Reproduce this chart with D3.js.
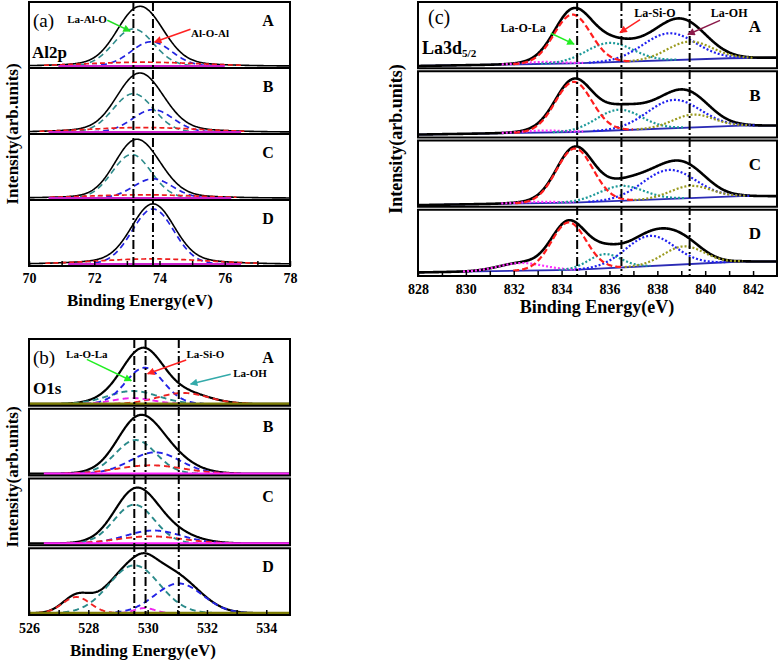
<!DOCTYPE html>
<html><head><meta charset="utf-8">
<script src="https://cdn.jsdelivr.net/npm/d3@7"></script>
<style>
body{margin:0;background:#fff}
svg{display:block}
text{font-family:"Liberation Serif","Times New Roman",serif;fill:#000}
</style>
</head><body>
<svg id="chart" width="778" height="661"></svg>
<script>
// ---------------- DATA ----------------
const rowLetters = ["A", "B", "C", "D"];

// Fitted peaks: [centre (eV), height (fraction of row), FWHM (eV)]
// Panel (a) Al2p
const al2pDomain = [70, 78];
const al2pTicks = [70, 72, 74, 76, 78];
const al2pRefLines = [73.2, 73.8];
const al2pLaAlO = [[73.2, 0.58, 1.45], [73.2, 0.60, 1.45], [73.15, 0.68, 1.4], null];
const al2pAlOAl = [[73.75, 0.38, 1.45], [73.8, 0.35, 1.45], [73.8, 0.30, 1.4], [73.8, 0.86, 1.5]];
const al2pRed = [[73.5, 0.06, 4.0], [73.5, 0.07, 4.0], [73.5, 0.05, 4.0], [73.8, 0.08, 4.0]];
const al2pBaseLevel = [0.015, 0.015, 0.015, 0.015];
const al2pBaseRange = [[70.9, 76.0], [70.6, 76.5], [70.6, 76.2], [71.2, 76.5]];

// Panel (b) O1s
const o1sDomain = [526, 534.8];
const o1sTicks = [526, 528, 530, 532, 534];
const o1sRefLines = [529.55, 529.93, 531.05];
const o1sTeal = [[529.5, 0.20, 2.0], [529.6, 0.52, 1.6], [529.55, 0.60, 1.6], [529.55, 0.74, 2.0]];
const o1sBlue = [[529.9, 0.56, 1.5], [530.25, 0.33, 2.0], [530.2, 0.20, 2.2], [531.05, 0.46, 1.9]];
const o1sRed = [[531.2, 0.17, 2.0], [530.1, 0.13, 2.6], [530.1, 0.11, 2.6], [527.6, 0.25, 1.1]];
const o1sMagenta = [[529.5, 0.09, 1.6], null, null, [529.9, 0.08, 0.8]];
const o1sBaseLevel = [0.012, 0.012, 0.012, 0.012];
const o1sBaseRange = [[526, 534.8], [526.5, 534.8], [526.5, 534.8], [526, 534.8]];
const o1sBaseKind = ["olive", "magenta", "magenta", "olive"];

// Panel (c) La3d5/2
const la3dDomain = [828, 843];
const la3dTicks = [828, 830, 832, 834, 836, 838, 840, 842];
const la3dRefLines = [834.65, 836.5, 839.35];
const la3dRed = [[834.45, 0.76, 1.8], [834.5, 0.78, 1.8], [834.55, 0.84, 1.8], [834.3, 0.74, 1.7]];
const la3dTeal = [[836.0, 0.30, 2.3], [836.4, 0.32, 2.2], [836.5, 0.23, 2.2], [835.8, 0.22, 1.6]];
const la3dBlue = [[838.5, 0.42, 2.6], [838.7, 0.44, 2.6], [838.5, 0.45, 2.6], [837.7, 0.47, 2.4]];
const la3dOlive = [[839.35, 0.28, 2.2], [839.5, 0.20, 2.0], [839.4, 0.19, 2.0], [839.1, 0.28, 2.0]];
const la3dMagenta = [[833.2, 0.03, 2.0], [833.2, 0.03, 2.0], [833.0, 0.02, 2.0], [832.3, 0.12, 2.2]];
// background lines: [eV, level]
const la3dBackground = [
  [[828, 0.02], [834.5, 0.06], [841, 0.14], [843, 0.15]],
  [[828, 0.03], [834.5, 0.07], [841.5, 0.17], [843, 0.17]],
  [[828, 0.01], [834.5, 0.05], [841.5, 0.15], [843, 0.15]],
  [[828, 0.04], [834.5, 0.08], [841.5, 0.21], [843, 0.21]]
];

// ---------------- DRAWING ----------------
const svg = d3.select("#chart");
const defs = svg.append("defs");
const FONT = '"Liberation Serif","Times New Roman",serif';

function peak(p, e) {
  if (!p) return 0;
  const [c, h, w] = p;
  return h * Math.exp(-4 * Math.LN2 * ((e - c) / w) ** 2);
}
function marker(color) {
  const id = "m" + color.replace("#", "");
  if (defs.select("#" + id).empty()) {
    defs.append("marker").attr("id", id).attr("viewBox", "0 0 10 10")
      .attr("refX", 9).attr("refY", 5).attr("markerWidth", 6).attr("markerHeight", 5)
      .attr("orient", "auto")
      .append("path").attr("d", "M0,0L10,5L0,10Z").attr("fill", color);
  }
  return `url(#${id})`;
}

function drawPanel(P) {
  const x = d3.scaleLinear().domain(P.domain).range([P.left, P.right]);
  const n = 4;
  const rowH = (P.bottom - P.top - P.gap * (n - 1)) / n;
  const g = svg.append("g");
  const grid = d3.range(P.domain[0], P.domain[1] + 1e-6, 0.02);
  const rows = d3.range(n).map(i => {
    const t = P.top + i * (rowH + P.gap);
    return { i, top: t, bottom: t + rowH, y: d3.scaleLinear().domain([0, 1]).range([t + rowH - 1, t + 1]) };
  });
  const line = (y) => d3.line().x(d => x(d[0])).y(d => y(d[1]));

  rows.forEach(r => {
    const cid = `clip-${P.id}-${r.i}`;
    defs.append("clipPath").attr("id", cid).append("rect")
      .attr("x", P.left).attr("y", r.top).attr("width", P.right - P.left).attr("height", rowH);
    const rg = g.append("g").attr("clip-path", `url(#${cid})`);
    const base = e => P.base(r.i, e);
    const env = grid.map(e => [e, base(e) + d3.sum(P.comps, c => peak(c.data[r.i], e))]);

    if (P.bgUnder) P.drawBase(rg, r.i, x, r.y);
    rg.append("path").attr("d", line(r.y)(env)).attr("fill", "none")
      .attr("stroke", "#000").attr("stroke-width", P.envWidth).attr("stroke-linejoin", "round");
    P.comps.forEach(c => {
      const p = c.data[r.i];
      if (!p) return;
      const pts = grid.filter(e => peak(p, e) > c.cut).map(e => [e, base(e) + peak(p, e)]);
      rg.append("path").attr("d", line(r.y)(pts)).attr("fill", "none")
        .attr("stroke", c.color).attr("stroke-width", c.width).attr("stroke-dasharray", c.dash);
    });
    if (!P.bgUnder) P.drawBase(rg, r.i, x, r.y);

    g.append("text").attr("x", P.right - P.letterDx).attr("y", r.top + P.letterDy)
      .attr("text-anchor", "middle").attr("dominant-baseline", "central")
      .attr("font-weight", "bold").attr("font-size", P.letterSize).text(rowLetters[r.i]);
  });

  P.refLines.forEach(e => {
    g.append("line").attr("x1", x(e)).attr("x2", x(e)).attr("y1", P.top).attr("y2", P.bottom)
      .attr("stroke", "#000").attr("stroke-width", 2).attr("stroke-dasharray", "9,3,2,3");
  });

  rows.forEach(r => {
    g.append("rect").attr("x", P.left).attr("y", r.top).attr("width", P.right - P.left)
      .attr("height", rowH).attr("fill", "none").attr("stroke", "#000").attr("stroke-width", 2);
  });

  const tickVals = d3.range(Math.ceil(P.domain[0]), Math.floor(P.domain[1]) + 1, 1);
  const ax = g.append("g").attr("transform", `translate(0,${P.bottom})`)
    .call(d3.axisBottom(x).tickValues(tickVals).tickSize(-5).tickSizeOuter(0).tickPadding(P.tickPad)
      .tickFormat(d => P.ticks.includes(d) ? d : ""));
  ax.select(".domain").remove();
  ax.selectAll(".tick line").attr("stroke", "#000").attr("stroke-width", 1.5);
  ax.selectAll(".tick text").attr("font-family", FONT).attr("font-weight", "bold")
    .attr("font-size", P.tickSize).attr("fill", "#000");

  g.append("text").attr("x", P.titleX).attr("y", P.titleY).attr("text-anchor", "middle")
    .attr("font-weight", "bold").attr("font-size", P.titleSize).text("Binding Energy(eV)");
  g.append("text").attr("transform", `translate(${P.ylabX},${(P.top + P.bottom) / 2}) rotate(-90)`)
    .attr("text-anchor", "middle").attr("dominant-baseline", "central")
    .attr("font-weight", "bold").attr("font-size", P.ylabSize).text("Intensity(arb.units)");

  const rA = rows[0];
  P.labels.forEach(L => {
    const t = g.append("text").attr("x", L.px !== undefined ? L.px : x(L.e))
      .attr("y", L.py !== undefined ? L.py : rA.y(L.f))
      .attr("text-anchor", L.anchor || "middle").attr("dominant-baseline", "central")
      .attr("font-weight", L.bold ? "bold" : "normal").attr("font-size", L.size);
    if (L.sub) {
      t.append("tspan").text(L.text);
      t.append("tspan").attr("font-size", L.size * 0.62).attr("dy", L.size * 0.3).text(L.sub);
    } else t.text(L.text);
  });
  P.arrows.forEach(A => {
    g.append("line").attr("x1", x(A.from[0])).attr("y1", rA.y(A.from[1]))
      .attr("x2", x(A.to[0])).attr("y2", rA.y(A.to[1]))
      .attr("stroke", A.color).attr("stroke-width", 1.5).attr("marker-end", marker(A.color));
  });
}

function flatBase(levels, ranges, colorFn, widthFn) {
  return {
    base: (i) => levels[i],
    draw: (rg, i, x, y) => {
      rg.append("path").attr("d", d3.line().x(d => x(d[0])).y(d => y(d[1]))(ranges[i].map(e => [e, levels[i]])))
        .attr("stroke", colorFn(i)).attr("stroke-width", widthFn(i)).attr("fill", "none");
    }
  };
}

const aBase = flatBase(al2pBaseLevel, al2pBaseRange, () => "#cc22cc", () => 2.2);
drawPanel({
  id: "a", left: 29, right: 290, top: 2, bottom: 266, gap: 0,
  domain: al2pDomain, ticks: al2pTicks, refLines: al2pRefLines,
  envWidth: 1.6, bgUnder: false,
  comps: [
    { data: al2pLaAlO, color: "#2e8b8b", dash: "6,4", width: 1.6, cut: 0.004 },
    { data: al2pAlOAl, color: "#2424e0", dash: "6,4", width: 1.7, cut: 0.004 },
    { data: al2pRed, color: "#ee1c1c", dash: "5,3", width: 1.7, cut: 0.012 }
  ],
  base: aBase.base, drawBase: aBase.draw,
  letterDx: 22, letterDy: 18, letterSize: 16,
  tickPad: 7, tickSize: 14,
  titleX: 140, titleY: 306, titleSize: 17, ylabX: 12, ylabSize: 17,
  labels: [
    { text: "(a)", px: 33, py: 20, anchor: "start", size: 19 },
    { text: "Al2p", px: 32, py: 52, anchor: "start", size: 17, bold: true },
    { text: "La-Al-O", e: 71.78, f: 0.75, size: 11, bold: true },
    { text: "Al-O-Al", e: 75.55, f: 0.53, size: 11, bold: true }
  ],
  arrows: [
    { from: [72.4, 0.73], to: [73.1, 0.56], color: "#22dd22" },
    { from: [74.95, 0.59], to: [73.85, 0.39], color: "#ff2222" }
  ]
});

const bBase = flatBase(o1sBaseLevel, o1sBaseRange,
  i => o1sBaseKind[i] === "olive" ? "#7d7d05" : "#ff22ff", i => o1sBaseKind[i] === "olive" ? 3 : 2.5);
drawPanel({
  id: "b", left: 29, right: 290, top: 339, bottom: 615, gap: 3,
  domain: o1sDomain, ticks: o1sTicks, refLines: o1sRefLines,
  envWidth: 2.2, bgUnder: false,
  comps: [
    { data: o1sTeal, color: "#2a8a8a", dash: "6,4", width: 1.9, cut: 0.004 },
    { data: o1sBlue, color: "#2323e6", dash: "6,4", width: 1.9, cut: 0.004 },
    { data: o1sRed, color: "#ee2222", dash: "6,4", width: 1.9, cut: 0.004 },
    { data: o1sMagenta, color: "#ee22ee", dash: "6,4", width: 1.9, cut: 0.004 }
  ],
  base: bBase.base, drawBase: bBase.draw,
  letterDx: 22, letterDy: 18, letterSize: 16,
  tickPad: 8, tickSize: 14,
  titleX: 143, titleY: 656, titleSize: 17, ylabX: 12, ylabSize: 17,
  labels: [
    { text: "(b)", px: 33, py: 357, anchor: "start", size: 19 },
    { text: "O1s", px: 33, py: 388, anchor: "start", size: 17, bold: true },
    { text: "La-O-La", e: 527.95, f: 0.79, size: 11, bold: true },
    { text: "La-Si-O", e: 531.95, f: 0.79, size: 11, bold: true },
    { text: "La-OH", e: 533.45, f: 0.49, size: 11, bold: true }
  ],
  arrows: [
    { from: [527.95, 0.70], to: [529.45, 0.37], color: "#22ee22" },
    { from: [531.3, 0.69], to: [530.0, 0.48], color: "#ff2222" },
    { from: [532.8, 0.47], to: [531.45, 0.32], color: "#33aaaa" }
  ]
});

const cBg = la3dBackground.map(pts => d3.scaleLinear().domain(pts.map(p => p[0])).range(pts.map(p => p[1])));
drawPanel({
  id: "c", left: 418, right: 777, top: 2, bottom: 276, gap: 3,
  domain: la3dDomain, ticks: la3dTicks, refLines: la3dRefLines,
  envWidth: 2.6, bgUnder: true,
  comps: [
    { data: la3dMagenta, color: "#ff30ff", dash: "2,2", width: 2.2, cut: 0.004 },
    { data: la3dTeal, color: "#1e9a9a", dash: "2,2", width: 2.2, cut: 0.004 },
    { data: la3dBlue, color: "#2020f0", dash: "2,2", width: 2.2, cut: 0.004 },
    { data: la3dOlive, color: "#9a9a1e", dash: "2,2", width: 2.2, cut: 0.004 },
    { data: la3dRed, color: "#ff1e1e", dash: "6,3", width: 2.2, cut: 0.004 }
  ],
  base: (i, e) => cBg[i](e),
  drawBase: (rg, i, x, y) => {
    rg.append("path").attr("d", d3.line().x(d => x(d[0])).y(d => y(d[1]))(la3dBackground[i]))
      .attr("stroke", "#2b2bb5").attr("stroke-width", 1.8).attr("fill", "none");
  },
  letterDx: 22, letterDy: 24, letterSize: 17,
  tickPad: 8, tickSize: 14,
  titleX: 597, titleY: 313, titleSize: 18, ylabX: 396, ylabSize: 18,
  labels: [
    { text: "(c)", px: 428, py: 17, anchor: "start", size: 20 },
    { text: "La3d", sub: "5/2", px: 422, py: 48, anchor: "start", size: 18, bold: true },
    { text: "La-O-La", e: 832.39, f: 0.61, size: 12, bold: true },
    { text: "La-Si-O", e: 837.9, f: 0.84, size: 12, bold: true },
    { text: "La-OH", e: 841.0, f: 0.84, size: 12, bold: true }
  ],
  arrows: [
    { from: [833.55, 0.53], to: [834.52, 0.36], color: "#22ee22" },
    { from: [837.28, 0.74], to: [836.44, 0.54], color: "#ff2222" },
    { from: [840.62, 0.73], to: [839.28, 0.51], color: "#8b1a4a" }
  ]
});
</script>
</body></html>
